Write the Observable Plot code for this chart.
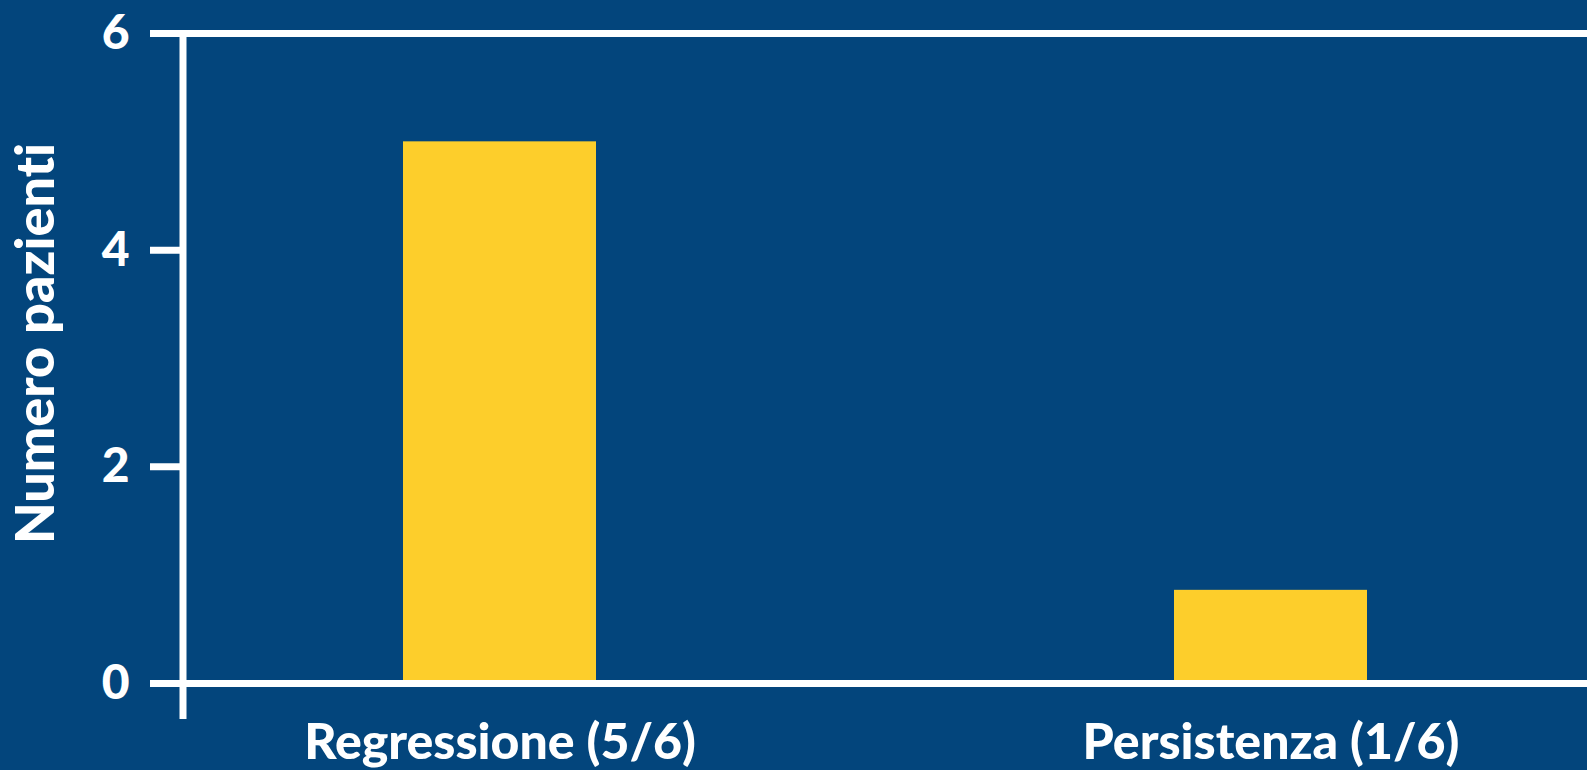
<!DOCTYPE html>
<html>
<head>
<meta charset="utf-8">
<script src="https://cdn.jsdelivr.net/npm/d3@7"></script>
<script src="https://cdn.jsdelivr.net/npm/@observablehq/plot@0.6"></script>
<style>
  html, body { margin: 0; padding: 0; background: #03457c; overflow: hidden; }
  #chart svg { display: block; }
  #chart svg text { font-variant-ligatures: none; font-feature-settings: "liga" 0, "clig" 0; }
</style>
</head>
<body>
<div id="chart"></div>
<script>
// Data
const categories = ["Regressione (5/6)", "Persistenza (1/6)"];
const values = [5, 0.86];
const yTicks = [0, 2, 4, 6];
const yLabel = "Numero pazienti";

const data = categories.map((c, i) => ({cat: c, value: values[i]}));

const BG = "#03457c";
const BAR = "#fdce2b";
const FONT = "Lato, 'Open Sans', sans-serif";
const WEIGHT = 900;

// vertical axis line drawn with the library's y scale and frame dimensions
function leftAxisLine(...args) {
  let scales = null, dims = null;
  for (const a of args) {
    if (a && typeof a === "object") {
      if (typeof a.y === "function" && !scales) scales = a;
      if ("marginLeft" in a && "height" in a && !dims) dims = a;
    }
  }
  const y = scales.y;
  const line = document.createElementNS("http://www.w3.org/2000/svg", "line");
  line.setAttribute("x1", dims.marginLeft);
  line.setAttribute("x2", dims.marginLeft);
  line.setAttribute("y1", y(yTicks[yTicks.length - 1]));
  line.setAttribute("y2", y(yTicks[0]) + 36);
  line.setAttribute("stroke", "white");
  line.setAttribute("stroke-width", 7);
  return line;
}

const chart = Plot.plot({
  width: 1587,
  height: 770,
  marginLeft: 183,
  marginRight: 0,
  marginTop: 33,
  marginBottom: 87,
  style: {background: BG, color: "white", fontFamily: FONT, fontWeight: WEIGHT},
  x: {domain: categories, paddingInner: 0.75, paddingOuter: 0.285, label: null},
  y: {domain: [0, 6], label: null},
  marks: [
    Plot.barY(data, {x: "cat", y: "value", fill: BAR}),
    Plot.ruleY([0, 6], {stroke: "white", strokeWidth: 7}),
    leftAxisLine,
    Plot.axisY({ticks: yTicks, tickFormat: d => String(d), tickSize: 33, tickPadding: 21,
      fontSize: 48, fontWeight: WEIGHT, stroke: "white", strokeWidth: 7, fill: "white", label: null}),
    Plot.axisX({tickSize: 0, tickPadding: 40, fontSize: 50, fontWeight: WEIGHT, fill: "white", label: null}),
    Plot.text([yLabel], {frameAnchor: "left", text: d => d, rotate: -90, dx: -147, dy: -15,
      fontSize: 54, fontWeight: WEIGHT, fill: "white", textAnchor: "middle", lineAnchor: "middle"})
  ]
});
document.getElementById("chart").appendChild(chart);
</script>
</body>
</html>
